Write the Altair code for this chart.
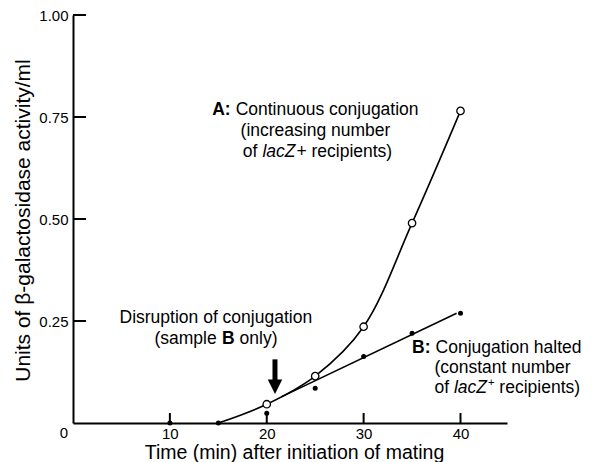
import altair as alt
import pandas as pd

# ---- data ----
a_time = [15, 20, 25, 30, 35, 40]
a_units = [0.0, 0.046, 0.115, 0.236, 0.490, 0.765]
b_time = [10, 15, 20, 25, 30, 35, 40]
b_units = [0.0, 0.0, 0.024, 0.085, 0.163, 0.220, 0.269]
b_fit_time = [21.5, 39.6]
b_fit_units = [0.064, 0.269]
x_ticks = [10, 20, 30, 40]
y_ticks = [0.25, 0.50, 0.75, 1.00]
arrow_time = [20.85]
arrow_top = [0.156]
arrow_base = [0.100]
arrow_head = [0.089]

# annotation pieces (anchor in data units)
ann_x = [14.37, 16.79, 25.03, 17.52, 19.55, 23.06,
         4.80, 8.41, 15.38, 17.19,
         35.0, 37.43, 37.31, 37.31, 39.32, 42.83, 44.01]
ann_y = [0.755, 0.755, 0.703, 0.652, 0.652, 0.652,
         0.244, 0.193, 0.193, 0.193,
         0.172, 0.172, 0.123, 0.073, 0.073, 0.073, 0.073]
ann_text = ["A:", "Continuous conjugation", "(increasing number", "of", "lacZ", "+ recipients)",
            "Disruption of conjugation", "(sample", "B", "only)",
            "B:", "Conjugation halted", "(constant number", "of", "lacZ", "+", "recipients)"]
ann_kind = ["bold", "regular", "regular_c", "regular", "italic", "regular",
            "regular", "regular", "bold", "regular",
            "bold", "regular", "regular", "regular", "italic", "sup", "regular"]

FONT = "Liberation Sans"
FS = 17.5

a_df = pd.DataFrame({"t": a_time, "u": a_units})
a_open = a_df[a_df["u"] > 0]
b_df = pd.DataFrame({"t": b_time, "u": b_units})
bfit_df = pd.DataFrame({"t": b_fit_time, "u": b_fit_units})
ann = pd.DataFrame({"t": ann_x, "u": ann_y, "text": ann_text, "kind": ann_kind})
xt = pd.DataFrame({"t": x_ticks})
yt = pd.DataFrame({"u": y_ticks})
arr = pd.DataFrame({"t": arrow_time, "top": arrow_top, "base": arrow_base, "head": arrow_head})

xs = alt.Scale(domain=[0, 44.8], nice=False, zero=False)
ys = alt.Scale(domain=[0, 1.0], nice=False, zero=False)

x_axis = alt.Axis(values=x_ticks, ticks=False, grid=False, domainColor="black", domainWidth=2,
                  labelFont=FONT, labelFontSize=15, labelColor="black", labelPadding=3,
                  title="Time (min) after initiation of mating", titleFont=FONT, titleFontSize=19.5,
                  titleFontWeight="normal", titleColor="black", titleX=221, titleY=35,
                  titleBaseline="alphabetic", titleAlign="center")
y_axis = alt.Axis(values=y_ticks, format=".2f", ticks=False, grid=False, domainColor="black",
                  domainWidth=2, labelFont=FONT, labelFontSize=15, labelColor="black", labelPadding=5,
                  title="Units of β-galactosidase activity/ml", titleFont=FONT, titleFontSize=21,
                  titleFontWeight="normal", titleColor="black", titleX=-50, titleY=205,
                  titleAngle=-90, titleBaseline="middle", titleAlign="center")

base_axes = alt.Chart(a_df).mark_line(strokeOpacity=0).encode(
    x=alt.X("t:Q", scale=xs, axis=x_axis),
    y=alt.Y("u:Q", scale=ys, axis=y_axis),
)

line_a = alt.Chart(a_df).mark_line(color="black", strokeWidth=1.6, interpolate="catmull-rom").encode(
    x=alt.X("t:Q", scale=xs), y=alt.Y("u:Q", scale=ys))
line_b = alt.Chart(bfit_df).mark_line(color="black", strokeWidth=1.6).encode(
    x=alt.X("t:Q", scale=xs), y=alt.Y("u:Q", scale=ys))
pts_a = alt.Chart(a_open).mark_point(shape="circle", filled=True, fill="white", stroke="black",
                                     strokeWidth=1.3, size=55, opacity=1).encode(
    x=alt.X("t:Q", scale=xs), y=alt.Y("u:Q", scale=ys))
pts_b = alt.Chart(b_df).mark_point(shape="circle", filled=True, color="black", size=25, opacity=1).encode(
    x=alt.X("t:Q", scale=xs), y=alt.Y("u:Q", scale=ys))

ytick_marks = alt.Chart(yt).mark_rule(color="black", strokeWidth=2).encode(
    y=alt.Y("u:Q", scale=ys), x=alt.value(0), x2=alt.value(13))
xtick_marks = alt.Chart(xt).mark_rule(color="black", strokeWidth=2).encode(
    x=alt.X("t:Q", scale=xs), y=alt.value(398), y2=alt.value(408))

zero_lbl = alt.Chart(pd.DataFrame({"t": [0], "u": [0], "text": ["0"]})).mark_text(
    font=FONT, fontSize=15, color="black", dx=-9, dy=14.5, baseline="alphabetic", align="center").encode(
    x=alt.X("t:Q", scale=xs), y=alt.Y("u:Q", scale=ys), text="text:N")

arrow_shaft = alt.Chart(arr).mark_rule(color="black", strokeWidth=5).encode(
    x=alt.X("t:Q", scale=xs), y=alt.Y("top:Q", scale=ys), y2="base:Q")
arrow_tip = alt.Chart(arr).mark_point(shape="M-1,-1L1,-1L0,1Z", filled=True, color="black",
                                      size=210, opacity=1).encode(
    x=alt.X("t:Q", scale=xs), y=alt.Y("head:Q", scale=ys))


def ann_layer(kind, **kw):
    return alt.Chart(ann).transform_filter(alt.datum.kind == kind).mark_text(
        font=FONT, color="black", baseline="alphabetic", **kw).encode(
        x=alt.X("t:Q", scale=xs), y=alt.Y("u:Q", scale=ys), text="text:N")


t_reg = ann_layer("regular", fontSize=FS, align="left")
t_regc = ann_layer("regular_c", fontSize=FS, align="center")
t_bold = ann_layer("bold", fontSize=FS, align="left", fontWeight="bold")
t_ital = ann_layer("italic", fontSize=FS, align="left", fontStyle="italic")
t_sup = ann_layer("sup", fontSize=11, align="left", dy=-7)

chart = alt.layer(
    base_axes, ytick_marks, xtick_marks, line_a, line_b, pts_a, pts_b,
    arrow_shaft, arrow_tip, zero_lbl, t_reg, t_regc, t_bold, t_ital, t_sup
).properties(
    width=434, height=408, autosize="none",
    padding={"left": 65, "top": 7, "right": 77, "bottom": 39},
).configure_view(stroke=None)

chart.save("out.html", embed_options={"renderer": "svg", "actions": False})
